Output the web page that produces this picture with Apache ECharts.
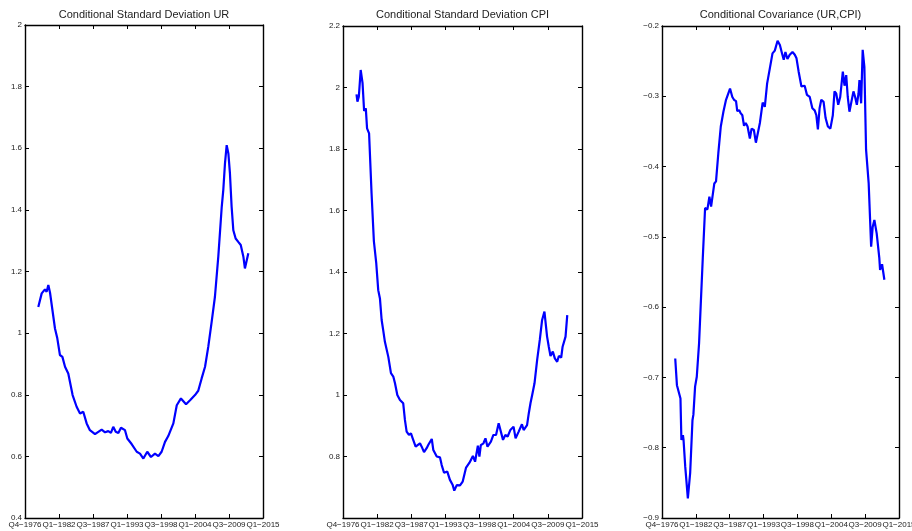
<!DOCTYPE html>
<html>
<head>
<meta charset="utf-8">
<script src="https://cdn.jsdelivr.net/npm/echarts@6/dist/echarts.min.js"></script>
<style>
html,body{margin:0;padding:0;background:#fff;}
#c{width:912px;height:531px;}
</style>
</head>
<body>
<div id="c"></div>
<script>
// Tick labels (quarter index 0..154 every 22)
const tickLabels = ['Q4\u22121976','Q1\u22121982','Q3\u22121987','Q1\u22121993','Q3\u22121998','Q1\u22122004','Q3\u22122009','Q1\u22122015'];
const titles = ['Conditional Standard Deviation UR','Conditional Standard Deviation CPI','Conditional Covariance (UR,CPI)'];

// Panel 1: conditional std dev UR
const urT = [8.6,10.8,12.9,14.0,15.1,16.2,17.3,19.4,20.9,22.6,24.2,25.9,28.0,30.8,33.4,35.6,37.7,39.9,42.0,45.3,49.6,51.8,53.9,55.6,57.1,58.7,60.4,62.1,64.7,66.2,69.0,72.3,74.4,76.6,79.1,81.5,84.1,86.3,88.4,90.6,92.7,96.0,98.2,100.9,104.2,106.8,110.0,112.1,114.3,116.5,118.6,120.8,122.9,125.1,127.3,128.3,129.4,130.5,131.6,132.6,133.7,134.8,136.3,138.0,139.6,141.3,142.3,144.5];
const urV = [1.085,1.129,1.142,1.134,1.156,1.131,1.129,1.015,0.983,0.929,0.923,0.891,0.869,0.799,0.761,0.739,0.745,0.707,0.685,0.672,0.687,0.678,0.682,0.676,0.696,0.680,0.676,0.693,0.685,0.658,0.640,0.615,0.609,0.593,0.615,0.598,0.609,0.601,0.615,0.647,0.666,0.707,0.766,0.788,0.769,0.782,0.799,0.813,0.853,0.891,0.956,1.037,1.118,1.250,1.410,1.464,1.551,1.610,1.583,1.519,1.410,1.334,1.307,1.296,1.286,1.248,1.210,1.259];

// Panel 2: conditional std dev CPI
const cpiT = [8.7,9.3,10.2,11.4,12.6,13.6,14.7,15.5,16.8,18.4,19.9,21.4,22.7,23.8,24.9,25.9,27.0,28.1,29.2,30.9,32.4,33.5,35.0,36.7,38.8,39.9,41.0,42.5,43.8,44.9,46.8,49.6,50.7,52.2,53.9,55.0,56.1,57.2,58.2,59.3,60.4,62.5,63.6,65.1,67.2,68.9,70.7,71.7,73.3,75.4,77.1,79.3,81.5,83.7,85.1,86.9,87.9,88.8,90.5,91.8,93.1,95.3,96.9,98.6,100.3,101.4,103.1,104.6,106.1,107.8,109.9,111.2,113.2,115.3,116.4,118.6,119.7,120.8,121.9,123.4,125.1,126.8,128.3,129.8,130.7,131.5,132.6,133.7,135.2,136.5,138.0,139.1,140.6,141.5,143.4,144.5];
const cpiV = [1.978,1.954,1.970,2.057,2.014,1.924,1.932,1.867,1.851,1.656,1.500,1.430,1.341,1.314,1.244,1.211,1.173,1.168,1.124,1.071,1.060,1.038,1.000,0.984,0.973,0.919,0.881,0.870,0.875,0.859,0.832,0.843,0.832,0.814,0.827,0.838,0.840,0.857,0.821,0.816,0.800,0.797,0.772,0.747,0.751,0.724,0.707,0.689,0.707,0.706,0.718,0.764,0.780,0.802,0.783,0.835,0.800,0.837,0.843,0.859,0.832,0.848,0.870,0.870,0.908,0.910,0.854,0.870,0.865,0.886,0.897,0.859,0.881,0.905,0.886,0.902,0.940,0.973,1.000,1.038,1.114,1.179,1.244,1.271,1.266,1.190,1.157,1.127,1.141,1.119,1.108,1.127,1.122,1.157,1.190,1.260];

// Panel 3: conditional covariance (UR,CPI)
const covT = [8.6,9.7,11.4,12.0,12.6,13.6,14.0,15.1,16.8,18.3,19.8,20.4,21.5,22.6,24.1,25.2,26.5,28.0,29.5,30.8,31.9,34.0,35.1,36.6,38.2,39.9,41.6,42.7,44.2,45.7,46.8,48.1,48.9,50.2,51.1,52.2,53.3,54.4,55.6,57.1,58.2,59.7,61.0,62.1,63.6,65.4,66.8,68.3,70.1,71.8,73.3,75.1,76.6,78.0,79.1,80.2,81.5,83.0,84.8,86.3,87.4,88.8,90.6,92.7,94.2,96.0,97.7,99.2,100.3,101.3,102.4,103.5,105.0,106.3,107.8,109.4,111.0,112.1,113.2,114.5,115.8,117.5,118.6,119.7,120.7,121.8,122.9,124.4,125.5,126.6,127.7,128.3,129.4,130.4,131.5,132.6,134.3,135.9,136.9,138.0,139.5,141.2,141.7,143.0,144.5];
const covV = [-0.673,-0.711,-0.725,-0.730,-0.789,-0.782,-0.789,-0.827,-0.872,-0.836,-0.761,-0.753,-0.713,-0.699,-0.651,-0.595,-0.530,-0.459,-0.461,-0.443,-0.457,-0.424,-0.421,-0.381,-0.343,-0.322,-0.305,-0.304,-0.289,-0.301,-0.305,-0.307,-0.321,-0.320,-0.324,-0.327,-0.342,-0.338,-0.343,-0.360,-0.346,-0.348,-0.366,-0.368,-0.338,-0.309,-0.315,-0.282,-0.260,-0.239,-0.235,-0.221,-0.227,-0.239,-0.248,-0.237,-0.247,-0.241,-0.237,-0.241,-0.246,-0.265,-0.286,-0.285,-0.298,-0.301,-0.317,-0.320,-0.327,-0.347,-0.317,-0.305,-0.308,-0.331,-0.343,-0.346,-0.327,-0.293,-0.296,-0.312,-0.301,-0.265,-0.285,-0.270,-0.301,-0.322,-0.324,-0.293,-0.301,-0.312,-0.296,-0.277,-0.310,-0.234,-0.258,-0.376,-0.424,-0.514,-0.486,-0.476,-0.495,-0.530,-0.547,-0.539,-0.561];

const yRanges = [[0.4,2,0.2,true],[0.6,2.2,0.2,false],[-0.9,-0.2,0.1,true]];
const grids = [
  {left:25, top:25, width:238, height:493, outerBoundsMode:'none', containLabel:false},
  {left:343, top:26, width:239, height:492, outerBoundsMode:'none', containLabel:false},
  {left:662, top:26, width:237, height:492, outerBoundsMode:'none', containLabel:false}
];
const seriesData = [[urT,urV],[cpiT,cpiV],[covT,covV]];

const FONT = 'Liberation Sans, Arial, Helvetica, sans-serif';
const lineCol = '#000';
const option = {
  animation:false,
  backgroundColor:'#fff',
  title: titles.map((t,i)=>({
    text:t, left: grids[i].left + grids[i].width/2, top:9, textAlign:'center', padding:0,
    textStyle:{fontFamily:FONT, fontSize:11, fontWeight:'normal', color:'#222'}
  })),
  grid: grids,
  xAxis: [], yAxis: [], series: []
};
grids.forEach((g,i)=>{
  const base = {type:'value', gridIndex:i, min:0, max:154, interval:22,
    axisLine:{show:true, onZero:false, lineStyle:{color:lineCol, width:1.4}},
    axisTick:{show:true, inside:true, length:4, lineStyle:{color:lineCol, width:1}},
    splitLine:{show:false}};
  option.xAxis.push(Object.assign({}, base, {position:'bottom',
    axisLabel:{show:true, margin:3, fontSize:8, fontFamily:FONT, color:'#222',
      showMinLabel:true, showMaxLabel:true, hideOverlap:false,
      formatter:v=>tickLabels[Math.round(v/22)]}}));
  option.xAxis.push(Object.assign({}, base, {position:'top', axisLabel:{show:false}}));
  const r = yRanges[i];
  const ybase = {type:'value', gridIndex:i, min:r[0], max:r[1], interval:r[2],
    axisLine:{show:true, onZero:false, lineStyle:{color:lineCol, width:1.4}},
    axisTick:{show:true, inside:true, length:4, lineStyle:{color:lineCol, width:1}},
    splitLine:{show:false}};
  option.yAxis.push(Object.assign({}, ybase, {position:'left',
    axisLabel:{show:true, margin:3, fontSize:8, fontFamily:FONT, color:'#222', showMinLabel:r[3], showMaxLabel:true,
      formatter:v=>{const s=(Math.round(v*10)/10).toString(); return s.replace('-','\u2212');}}}));
  option.yAxis.push(Object.assign({}, ybase, {position:'right', axisLabel:{show:false}}));
  const d = seriesData[i];
  option.series.push({type:'line', xAxisIndex:2*i, yAxisIndex:2*i, showSymbol:false, symbol:'none',
    data: d[0].map((t,k)=>[t, d[1][k]]),
    lineStyle:{color:'#0000ff', width:2.2}, itemStyle:{color:'#0000ff'}});
});
const chart = echarts.init(document.getElementById('c'), null, {renderer:'canvas'});
chart.setOption(option);
</script>
</body>
</html>
